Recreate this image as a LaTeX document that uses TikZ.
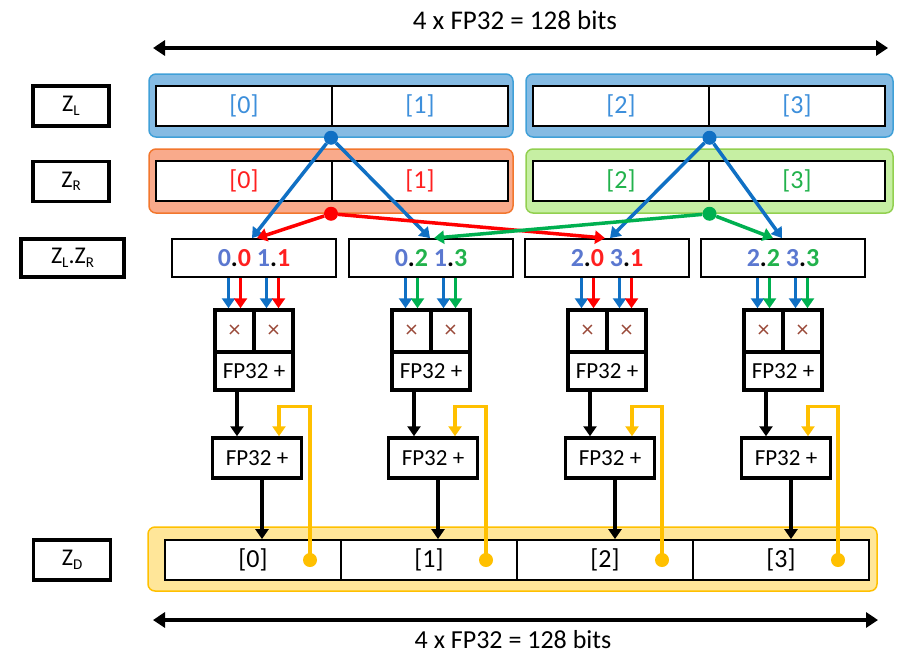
\documentclass[tikz,border=0pt]{standalone}
\usepackage{fontspec}
\setmainfont{Carlito}
\usetikzlibrary{arrows.meta,calc}
\definecolor{cblue}{HTML}{1070C4}
\definecolor{cred}{HTML}{FF0000}
\definecolor{cgreen}{HTML}{00B050}
\definecolor{cyel}{HTML}{FFC000}
\definecolor{tblue}{HTML}{3D8FDB}
\definecolor{tred}{HTML}{FF2020}
\definecolor{tgreen}{HTML}{22B24C}
\definecolor{nblue}{HTML}{5B78D0}
\definecolor{bluefill}{HTML}{85BBE3}
\definecolor{bluebd}{HTML}{40A0D8}
\definecolor{orfill}{HTML}{F9AA8B}
\definecolor{orbd}{HTML}{F2772E}
\definecolor{grfill}{HTML}{C6EFA3}
\definecolor{grbd}{HTML}{92D050}
\definecolor{yefill}{HTML}{FFE699}
\definecolor{yebd}{HTML}{FFC000}
\definecolor{xcol}{HTML}{9A4A3A}
\newcommand{\myfs}[1]{\fontsize{#1}{#1}\selectfont}
\newcommand{\zsub}[1]{\raisebox{-0.3ex}{\myfs{15}#1}}
\begin{document}
\begin{tikzpicture}[x=1pt,y=-1pt,
  cont/.style={line width=1.5pt, rounded corners=7pt, inner sep=0, minimum height=63pt},
  cell/.style={draw, fill=white, line width=1.8pt, minimum width=176pt, minimum height=40pt, inner sep=0, font=\myfs{26}},
  lab/.style={draw, line width=3.5pt, minimum height=40pt, inner sep=0, font=\myfs{24}},
  prod/.style={draw, line width=1.8pt, fill=white, minimum width=164pt, minimum height=38pt, inner sep=0, font=\bfseries\myfs{26}},
  mulc/.style={draw, line width=3.5pt, minimum width=39pt, minimum height=42pt, inner sep=0, font=\myfs{24}, text=xcol},
  addc/.style={draw, line width=3.5pt, minimum width=78pt, minimum height=38pt, inner sep=0, font=\myfs{23}},
  acc/.style={draw, line width=3.5pt, fill=white, minimum width=89pt, minimum height=40pt, inner sep=0, font=\myfs{23}},
  dot/.style={circle, inner sep=0, minimum size=14pt},
  arr/.style={line width=3.5pt, -{Triangle[width=13pt,length=10pt]}},
  big/.style={line width=4pt, {Triangle[width=15pt,length=12pt]}-{Triangle[width=15pt,length=12pt]}}
]
\useasboundingbox (0,0) rectangle (908,656);

% top dimension
\coordinate (tl) at (153,48);
\coordinate (tr) at (888,48);
\draw[big] (tl) -- (tr);
\node[font=\myfs{27}] (ttop) at (515,20) {4 x FP32 = 128 bits};

% labels
\node[lab, minimum width=76pt] (lZL) at (71,106) {Z\zsub{L}};
\node[lab, minimum width=76pt] (lZR) at (71,181.5) {Z\zsub{R}};
\node[lab, minimum width=103pt, minimum height=38pt] (lZLR) at (72.5,258) {Z\zsub{L}.Z\zsub{R}};
\node[lab, minimum width=77pt] (lZD) at (72,560) {Z\zsub{D}};

% containers
\node[cont, draw=bluebd, fill=bluefill, minimum width=364pt] (cL1) at (331,105.5) {};
\node[cont, draw=bluebd, fill=bluefill, minimum width=367pt] (cL2) at (709.5,105.5) {};
\node[cont, draw=orbd, fill=orfill, minimum width=364pt, minimum height=64pt] (cR1) at (331,181) {};
\node[cont, draw=grbd, fill=grfill, minimum width=367pt, minimum height=64pt] (cR2) at (709.5,181) {};
\node[cont, draw=yebd, fill=yefill, minimum width=729pt, minimum height=64pt] (cD) at (512.5,559) {};

% ZL / ZR cells
\node[cell, text=tblue] (L0) at (244,106) {[0]};
\node[cell, text=tblue] (L1) at (420,106) {[1]};
\node[cell, text=tblue] (L2) at (621,106) {[2]};
\node[cell, text=tblue] (L3) at (797,106) {[3]};
\node[cell, text=tred] (R0) at (244,181) {[0]};
\node[cell, text=tred] (R1) at (420,181) {[1]};
\node[cell, text=tgreen] (R2) at (621,181) {[2]};
\node[cell, text=tgreen] (R3) at (797,181) {[3]};

% ZD cells
\node[cell] (zd1) at (253,560) {[0]};
\node[cell] (zd2) at (429,560) {[1]};
\node[cell] (zd3) at (605,560) {[2]};
\node[cell] (zd4) at (781,560) {[3]};

% dots
\node[dot, fill=cblue] (dL1) at (cL1.south) {};
\node[dot, fill=cblue] (dL2) at (cL2.south) {};
\node[dot, fill=cred] (dR1) at (cR1.south) {};
\node[dot, fill=cgreen] (dR2) at (cR2.south) {};

% product boxes and pipelines
\foreach \i/\cx/\ac/\c/\cc/\a/\b/\d/\e in {
  1/254/257/tred/cred/0/0/1/1,
  2/431/433/tgreen/cgreen/0/2/1/3,
  3/607/610/tred/cred/2/0/3/1,
  4/783/786/tgreen/cgreen/2/2/3/3}{
  \node[prod] (pr\i) at (\cx,258) {{\color{nblue}\a}.{\color{\c}\b} {\color{nblue}\d}.{\color{\c}\e}};
  \node[mulc] (ma\i) at (\cx-19.5,331) {×};
  \node[mulc] (mb\i) at (\cx+19.5,331) {×};
  \node[addc] (mc\i) at (\cx,371) {FP32 +};
  \node[acc] (ac\i) at (\ac,458) {FP32 +};
  \draw[arr, cblue] ($(pr\i.south -| ma\i.north)+(-6,0)$) -- ([xshift=-6pt]ma\i.north);
  \draw[arr, \cc] ($(pr\i.south -| ma\i.north)+(6,0)$) -- ([xshift=6pt]ma\i.north);
  \draw[arr, cblue] ($(pr\i.south -| mb\i.north)+(-7,0)$) -- ([xshift=-7pt]mb\i.north);
  \draw[arr, \cc] ($(pr\i.south -| mb\i.north)+(5,0)$) -- ([xshift=5pt]mb\i.north);
  \coordinate (mo\i) at ($(mc\i.south)+(-17,0)$);
  \draw[arr, black] (mo\i) -- (mo\i |- ac\i.north);
  \coordinate (ao\i) at ($(ac\i.south)+(5,0)$);
  \draw[arr, black] (ao\i) -- (ao\i |- zd\i.north);
  \node[dot, fill=cyel, minimum size=14pt] (yd\i) at ($(zd\i.center)+(57,0)$) {};
  \draw[arr, cyel] (yd\i.center) |- ($(ac\i.north)+(22,-30)$) -- ($(ac\i.north)+(22,0)$);
}

% broadcast connectors
\draw[arr, cblue] (dL1) -- ([xshift=-2pt]pr1.north);
\draw[arr, cblue] (dL1) -- ([xshift=-1pt]pr2.north);
\draw[arr, cblue] (dL2) -- ([xshift=3pt]pr3.north);
\draw[arr, cblue] (dL2) -- ([xshift=-1pt]pr4.north);
\draw[arr, cred] (dR1) -- ([xshift=3pt]pr1.north);
\draw[arr, cred] (dR1) -- ([xshift=-2pt]pr3.north);
\draw[arr, cgreen] (dR2) -- ([xshift=3pt]pr2.north);
\draw[arr, cgreen] (dR2) -- ([xshift=-10pt]pr4.north);

% bottom dimension
\coordinate (bl) at (153,620);
\coordinate (br) at (878,620);
\draw[big] (bl) -- (br);
\node[font=\myfs{26}] (tbot) at (513,640) {4 x FP32 = 128 bits};
\end{tikzpicture}
\end{document}
